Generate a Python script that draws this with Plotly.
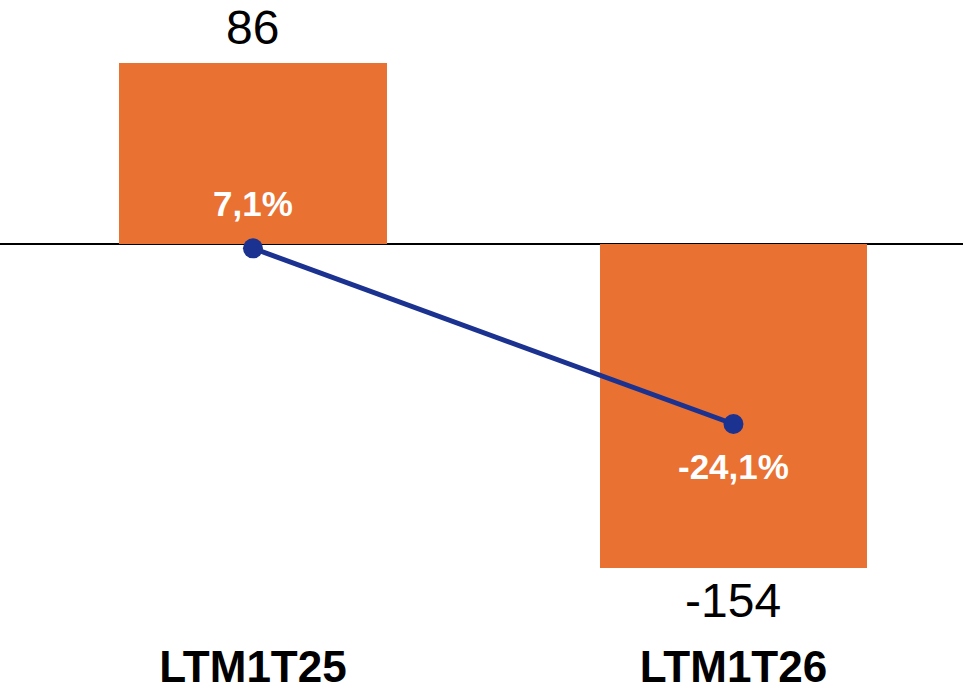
import plotly.graph_objects as go

categories = ["LTM1T25", "LTM1T26"]
bar_values = [86, -154]
bar_labels = ["86", "-154"]
pct_values = [7.1, -24.1]
pct_labels = ["7,1%", "-24,1%"]

ORANGE = "#E97132"
NAVY = "#1B3290"
FONT = "Liberation Sans, Arial, sans-serif"

S1 = 2.105   # px per unit, primary axis
Z1 = 244     # zero position from top, primary
S2 = 5.631
Z2 = 288.3
PLOT_H = 636

fig = go.Figure()
fig.add_trace(go.Bar(
    x=categories, y=bar_values, marker=dict(color=ORANGE, line=dict(width=0)),
    width=0.556, hoverinfo="skip", yaxis="y"))
fig.add_trace(go.Scatter(
    x=categories, y=pct_values, mode="lines+markers", yaxis="y2",
    line=dict(color=NAVY, width=5), marker=dict(color=NAVY, size=20),
    hoverinfo="skip", cliponaxis=False))

annotations = []
for c, v, t in zip(categories, bar_values, bar_labels):
    annotations.append(dict(
        x=c, y=v, xref="x", yref="y", text=t, showarrow=False,
        yanchor="middle", yshift=(35 if v >= 0 else -32),
        font=dict(family=FONT, size=48, color="black")))
for c, v, t in zip(categories, pct_values, pct_labels):
    annotations.append(dict(
        x=c, y=v, xref="x", yref="y2", text="<b>" + t + "</b>", showarrow=False,
        yanchor="middle", yshift=(45 if v >= 0 else -42),
        font=dict(family=FONT, size=35, color="white")))

fig.update_layout(
    width=963, height=696,
    margin=dict(l=0, r=0, t=0, b=696 - PLOT_H),
    paper_bgcolor="white", plot_bgcolor="white",
    showlegend=False, bargap=0,
    font=dict(family=FONT),
    xaxis=dict(range=[-0.5265, 1.4777], showgrid=False, showline=False,
               ticks="", tickfont=dict(family=FONT, size=44, color="black"),
               tickmode="array", tickvals=categories, ticklabelstandoff=1,
               ticktext=["<b>" + c + "</b>" for c in categories]),
    yaxis=dict(range=[-(PLOT_H - Z1) / S1, Z1 / S1], showgrid=False,
               showticklabels=False, zeroline=True, zerolinecolor="black",
               zerolinewidth=1.5, showline=False),
    yaxis2=dict(range=[-(PLOT_H - Z2) / S2, Z2 / S2], overlaying="y",
                side="right", showgrid=False, showticklabels=False,
                zeroline=False, showline=False),
    annotations=annotations,
)

fig.write_html("out.html", config={"displayModeBar": False},
               post_script="document.body.style.margin='0';document.body.style.overflow='hidden';")
